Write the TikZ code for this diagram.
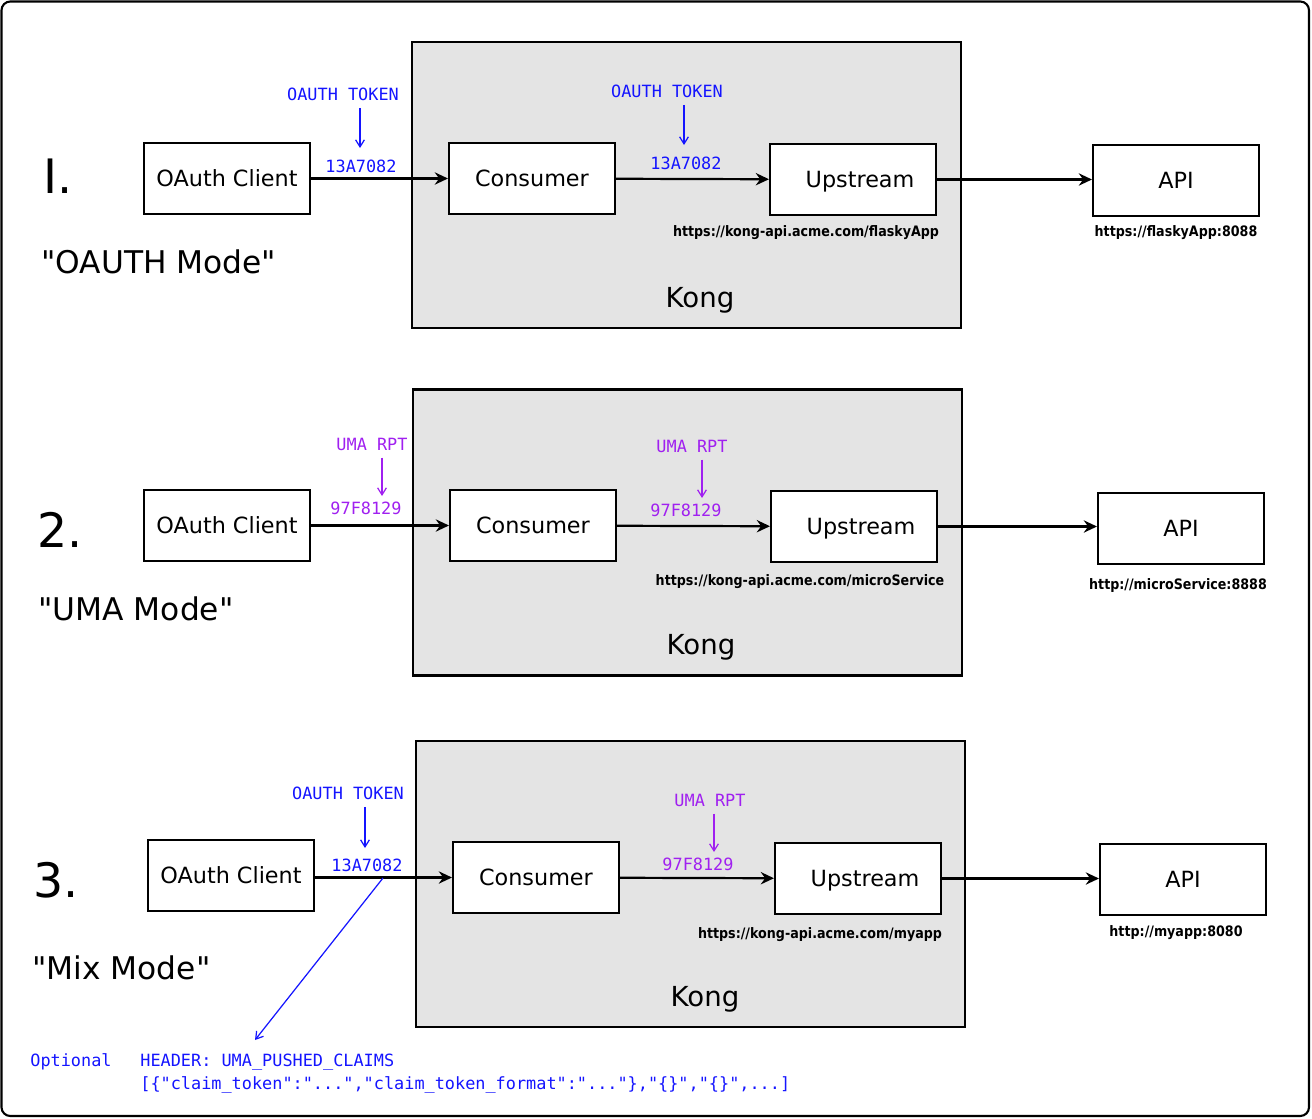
\documentclass[tikz,border=0pt]{standalone}
\usepackage{fontspec}
\setmainfont{DejaVu Sans}
\setmonofont{DejaVu Sans Mono}
\newfontfamily\urlfont{DejaVu Sans}[FakeStretch=0.88]
\usetikzlibrary{arrows.meta,positioning}
\definecolor{konggray}{RGB}{228,228,228}
\definecolor{umapurple}{RGB}{160,32,240}
\definecolor{tokblue}{RGB}{20,20,255}

\begin{document}
\begin{tikzpicture}[x=0.02cm, y=-0.02cm,
    box/.style={draw, line width=1.2pt, fill=white, minimum width=3.32cm, minimum height=1.42cm, inner sep=0pt, font=\fontsize{12.7}{15}\selectfont, text height=9.3pt, text depth=0pt},
    kong/.style={draw, line width=1.2pt, fill=konggray, minimum width=10.98cm, minimum height=5.72cm, inner sep=0pt},
    flow/.style={-{Stealth[length=7.5pt,width=7pt,inset=2.5pt]}, line width=1.25pt},
    tok/.style={font=\ttfamily\fontsize{9.6}{11}\selectfont, inner sep=0pt},
    tokarr/.style={-{Straight Barb[length=4pt,width=5pt]}, line width=0.7pt},
    num/.style={anchor=west, inner sep=0pt, font=\fontsize{27}{30}\selectfont},
    mode/.style={anchor=west, inner sep=0pt, font=\fontsize{17.8}{20}\selectfont},
    url/.style={inner sep=0pt, font=\urlfont\bfseries\fontsize{8.2}{10}\selectfont},
    konglbl/.style={inner sep=0pt, font=\fontsize{15.7}{18}\selectfont}]

    \useasboundingbox (0,0) rectangle (1312,1119);
    \draw[line width=1.2pt, rounded corners=5pt] (1.5,1.5) rectangle (1309,1116);

    % Row 1 - OAuth mode
    \node[kong] (kongA) at (686.5,185) {};
    \node[konglbl] (kongLblA) at (700,300) {Kong};
    \node[num] (numA) at (43,176) {I.};
    \node[mode] (modeA) at (41,262) {\textquotedbl OAUTH Mode\textquotedbl};

    \node[box] (clientA) at (227,178.5) {OAuth Client};
    \node[box] (consA) at (532,178.5) {Consumer};
    \node[box] (upA) at (853,179.5) {\hspace{8pt}Upstream};
    \node[box] (apiA) at (1176,180.5) {API};

    \draw[flow] (clientA) -- (consA);
    \draw[flow] (consA) -- (upA);
    \draw[flow] (upA.east) -- (upA.east -| apiA.west);

    \node[tok, text=tokblue] (tokA) at (343,94) {OAUTH TOKEN};
    \node[tok, text=tokblue] (codeA) at (361,166) {13A7082};
    \coordinate (tipA) at (360,148);
    \draw[tokarr, tokblue, shorten <=4pt] (tokA.south -| tipA) -- (tipA);

    \node[tok, text=tokblue] (tokA2) at (667,91) {OAUTH TOKEN};
    \node[tok, text=tokblue] (codeA2) at (686,163) {13A7082};
    \coordinate (tipA2) at (684,145);
    \draw[tokarr, tokblue, shorten <=4pt] (tokA2.south -| tipA2) -- (tipA2);

    \node[url] (urlA) at (806,233) {https://kong-api.acme.com/flaskyApp};
    \node[url] (apiUrlA) at (1176,233) {https://flaskyApp:8088};

    % Row 2 - UMA mode
    \node[kong] (kongB) at (687.5,532.5) {};
    \node[konglbl] (kongLblB) at (701,647) {Kong};
    \node[num] (numB) at (37,530) {2.};
    \node[mode] (modeB) at (38,609) {\textquotedbl UMA Mode\textquotedbl};

    \node[box] (clientB) at (227,525.5) {OAuth Client};
    \node[box] (consB) at (533,525.5) {Consumer};
    \node[box] (upB) at (854,526.5) {\hspace{8pt}Upstream};
    \node[box] (apiB) at (1181,528.5) {API};

    \draw[flow] (clientB) -- (consB);
    \draw[flow] (consB) -- (upB);
    \draw[flow] (upB.east) -- (upB.east -| apiB.west);

    \node[tok, text=umapurple] (umaB) at (372,444) {UMA RPT};
    \node[tok, text=umapurple] (codeB) at (366,508) {97F8129};
    \coordinate (tipB) at (382,496);
    \draw[tokarr, umapurple, shorten <=4pt] (umaB.south -| tipB) -- (tipB);

    \node[tok, text=umapurple] (umaB2) at (692,446) {UMA RPT};
    \node[tok, text=umapurple] (codeB2) at (686,510) {97F8129};
    \coordinate (tipB2) at (702,498);
    \draw[tokarr, umapurple, shorten <=4pt] (umaB2.south -| tipB2) -- (tipB2);

    \node[url] (urlB) at (800,582) {https://kong-api.acme.com/microService};
    \node[url] (apiUrlB) at (1178,586) {http://microService:8888};

    % Row 3 - Mix mode
    \node[kong] (kongC) at (690.5,884) {};
    \node[konglbl] (kongLblC) at (705,999) {Kong};
    \node[num] (numC) at (33,880) {3.};
    \node[mode] (modeC) at (32,968) {\textquotedbl Mix Mode\textquotedbl};

    \node[box] (clientC) at (231,875.5) {OAuth Client};
    \node[box] (consC) at (536,877.5) {Consumer};
    \node[box] (upC) at (858,878.5) {\hspace{8pt}Upstream};
    \node[box] (apiC) at (1183,879.5) {API};

    \draw[flow] (clientC.east) ++(0,2) -- (consC.west);
    \draw[flow] (consC) -- (upC);
    \draw[flow] (upC.east) -- (upC.east -| apiC.west);

    \node[tok, text=tokblue] (tokC) at (348,793) {OAUTH TOKEN};
    \node[tok, text=tokblue] (codeC) at (367,865) {13A7082};
    \coordinate (tipC) at (365,848);
    \draw[tokarr, tokblue, shorten <=4pt] (tokC.south -| tipC) -- (tipC);

    \node[tok, text=umapurple] (umaC) at (710,800) {UMA RPT};
    \node[tok, text=umapurple] (codeC2) at (698,864) {97F8129};
    \coordinate (tipC2) at (714,852);
    \draw[tokarr, umapurple, shorten <=4pt] (umaC.south -| tipC2) -- (tipC2);

    \node[url] (urlC) at (820,935) {https://kong-api.acme.com/myapp};
    \node[url] (apiUrlC) at (1176,933) {http://myapp:8080};

    % pushed claims
    \coordinate (splitC) at (383,878);
    \coordinate (claimTip) at (255,1040);
    \draw[tokarr, tokblue] (splitC) -- (claimTip);
    \node[tok, text=tokblue, anchor=west] (optLbl) at (30,1062) {Optional};
    \node[tok, text=tokblue, anchor=west] (hdrLbl) at (140,1062) {HEADER: UMA\_PUSHED\_CLAIMS};
    \node[tok, text=tokblue, anchor=west] (claimLbl) at (140,1085) {[\{"claim\_token":"...","claim\_token\_format":"..."\},"\{\}","\{\}",...]};
\end{tikzpicture}
\end{document}
